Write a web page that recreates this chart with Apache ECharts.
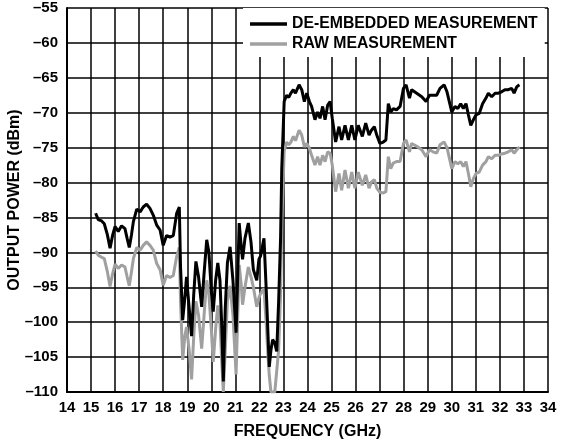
<!DOCTYPE html>
<html>
<head>
<meta charset="utf-8">
<script src="https://cdn.jsdelivr.net/npm/echarts@6/dist/echarts.min.js"></script>
<style>
  html, body { margin: 0; padding: 0; background: #fff; }
  #chart { width: 561px; height: 446px; }
</style>
</head>
<body>
<div id="chart"></div>
<script>
const freqGHz = [
  15.19, 15.30, 15.44, 15.55, 15.68, 15.79, 15.90, 16.00, 16.13, 16.27,
  16.41, 16.50, 16.59, 16.68, 16.76, 16.90, 17.04, 17.17, 17.31, 17.45,
  17.59, 17.73, 17.87, 18.00, 18.14, 18.28, 18.42, 18.56, 18.67,
  18.72, 18.81, 18.90, 18.97, 19.08, 19.18, 19.27, 19.36, 19.47, 19.60,
  19.70, 19.81, 19.90, 20.00, 20.08, 20.18, 20.27, 20.36, 20.44, 20.50,
  20.58, 20.67, 20.78, 20.90, 21.03, 21.10, 21.16, 21.24, 21.30, 21.40,
  21.54, 21.65, 21.75, 21.89, 21.98, 22.05, 22.19, 22.28, 22.36, 22.41,
  22.48, 22.55, 22.64, 22.72, 22.80, 22.88, 22.93,
  23.03, 23.13, 23.22, 23.31, 23.41, 23.50, 23.65, 23.76, 23.87, 23.97,
  24.08, 24.17, 24.31, 24.42, 24.52, 24.63, 24.73, 24.84, 24.94, 25.03,
  25.17, 25.31, 25.42, 25.56, 25.70, 25.84, 25.97, 26.11, 26.28, 26.42,
  26.56, 26.66, 26.78, 26.88, 27.01, 27.15, 27.26, 27.36, 27.46, 27.57,
  27.70, 27.85, 27.99, 28.10, 28.24, 28.33, 28.54, 28.75, 28.93, 29.07,
  29.22, 29.37, 29.51, 29.68, 29.80, 30.00, 30.13, 30.25, 30.37, 30.48,
  30.59, 30.69, 30.79, 30.90, 31.01, 31.14, 31.28, 31.42, 31.52, 31.66,
  31.80, 31.94, 32.07, 32.21, 32.35, 32.49, 32.59, 32.70, 32.81
]

const deEmbedded = [
  -84.4, -85.3, -85.5, -85.9, -87.5, -89.4, -87.5, -86.3, -87.0, -86.2,
  -86.6, -88.0, -89.3, -87.5, -85.6, -83.8, -84.2, -83.5, -83.1, -83.7,
  -84.7, -86.1, -86.8, -89.0, -87.6, -87.8, -87.6, -84.4, -83.5,
  -92.0, -99.7, -96.5, -93.5, -98.0, -102.0, -96.0, -91.3, -93.5, -97.8,
  -93.0, -88.2, -90.0, -95.5, -98.5, -94.0, -91.5, -94.0, -101.0, -108.5,
  -98.0, -91.5, -89.2, -94.0, -101.5, -93.0, -85.8, -89.0, -91.0, -88.0,
  -85.8, -88.5, -92.5, -94.0, -91.0, -90.5, -88.0, -95.0, -102.0, -106.4,
  -104.0, -102.5, -103.0, -104.2, -97.0, -88.0, -78.0,
  -68.4, -67.5, -67.8, -67.2, -66.7, -67.2, -66.0, -66.7, -68.4, -67.2,
  -68.4, -69.1, -71.0, -69.9, -70.8, -69.1, -71.0, -68.9, -68.4, -70.8,
  -74.2, -72.0, -73.9, -71.8, -73.9, -71.8, -73.9, -71.8, -73.4, -71.5,
  -73.2, -72.5, -72.0, -73.2, -74.4, -74.2, -73.9, -68.7, -69.9, -69.4,
  -69.6, -69.1, -66.5, -66.0, -67.9, -66.7, -67.2, -67.7, -68.4, -67.5,
  -67.5, -67.5, -66.5, -66.0, -67.0, -69.9, -69.1, -69.4, -68.7, -69.4,
  -68.7, -70.3, -71.8, -71.0, -70.3, -70.1, -68.7, -67.9, -67.2, -67.7,
  -67.2, -67.2, -67.0, -66.7, -66.7, -66.5, -67.2, -66.3, -66.0
]

const rawMeasured = [
  -89.8, -90.4, -90.7, -90.9, -92.8, -94.9, -93.0, -91.7, -92.3, -91.8,
  -92.1, -93.5, -94.8, -92.8, -90.9, -89.3, -89.7, -89.0, -88.5, -89.0,
  -89.7, -91.6, -92.5, -94.7, -93.3, -93.6, -93.3, -90.6, -89.3,
  -97.0, -105.4, -102.0, -100.7, -104.0, -108.2, -102.0, -97.0, -99.0, -103.8,
  -99.0, -94.0, -96.0, -101.0, -105.7, -101.0, -97.6, -100.0, -106.0, -110.0,
  -104.0, -97.0, -94.8, -99.0, -107.5, -99.0, -91.8, -94.5, -97.5, -95.0,
  -92.1, -93.5, -95.0, -97.8, -96.5, -95.9, -95.2, -100.0, -105.0, -107.6,
  -110.0, -110.0, -110.0, -110.0, -104.0, -96.0, -86.0,
  -75.5, -74.2, -74.6, -74.2, -73.4, -74.0, -72.5, -73.2, -74.9, -74.4,
  -75.1, -76.1, -77.5, -76.3, -77.5, -76.1, -77.0, -75.6, -75.8, -77.5,
  -81.3, -78.7, -81.1, -78.2, -80.8, -78.5, -80.8, -78.5, -80.4, -78.9,
  -80.8, -79.9, -79.6, -80.8, -81.4, -81.5, -81.3, -76.3, -78.0, -77.2,
  -77.0, -77.0, -74.4, -73.9, -75.6, -74.4, -74.8, -75.3, -76.3, -75.3,
  -75.6, -75.8, -74.6, -74.2, -75.0, -78.0, -77.0, -77.3, -77.0, -77.7,
  -77.0, -78.7, -80.6, -79.4, -78.7, -78.5, -77.5, -77.0, -76.3, -76.6,
  -76.1, -76.1, -75.9, -75.8, -75.6, -75.3, -75.8, -75.3, -74.9
]

const seriesNames = ['DE-EMBEDDED MEASUREMENT', 'RAW MEASUREMENT']

const FONT = '"Liberation Sans", Arial, sans-serif'

function pairs(values) {
  return freqGHz.map((f, i) => [f, values[i]])
}

function buildOption() {
  return {
    animation: false,
    textStyle: { fontFamily: FONT },
    grid: { left: 67, right: 13, top: 8, bottom: 54, outerBoundsMode: 'none' },
    legend: {
      orient: 'vertical',
      left: 243,
      top: 8,
      padding: [8, 7, 5, 7],
      itemGap: 4,
      itemWidth: 37,
      itemHeight: 3.5,
      icon: 'rect',
      backgroundColor: '#fff',
      data: seriesNames,
      textStyle: { fontFamily: FONT, fontWeight: 'bold', fontSize: 15.8, color: '#000' }
    },
    xAxis: {
      type: 'value',
      min: 14,
      max: 34,
      interval: 1,
      name: 'FREQUENCY (GHz)',
      nameLocation: 'middle',
      nameGap: 32,
      nameMoveOverlap: false,
      nameTextStyle: { fontFamily: FONT, fontWeight: 'bold', fontSize: 16, color: '#000' },
      axisLine: { lineStyle: { color: '#000', width: 2 } },
      axisTick: { show: false },
      axisLabel: { fontFamily: FONT, fontWeight: 'bold', fontSize: 15, color: '#000', margin: 8 },
      splitLine: { show: true, lineStyle: { color: '#000', width: 1.5 } }
    },
    yAxis: {
      type: 'value',
      min: -110,
      max: -55,
      interval: 5,
      name: 'OUTPUT POWER (dBm)',
      nameLocation: 'middle',
      nameGap: 44,
      nameRotate: 90,
      nameMoveOverlap: false,
      nameTextStyle: { fontFamily: FONT, fontWeight: 'bold', fontSize: 16, color: '#000' },
      axisLine: { show: true, lineStyle: { color: '#000', width: 2 } },
      axisTick: { show: false },
      axisLabel: {
        fontFamily: FONT, fontWeight: 'bold', fontSize: 15, color: '#000', margin: 9,
        formatter: (v) => String(v).replace('-', '\u2013')
      },
      splitLine: { show: true, lineStyle: { color: '#000', width: 1.5 } }
    },
    series: [
      {
        name: seriesNames[1],
        type: 'line',
        data: pairs(rawMeasured),
        symbol: 'none',
        clip: true,
        lineStyle: { color: '#a0a0a0', width: 3 },
        itemStyle: { color: '#a0a0a0' },
        z: 3
      },
      {
        name: seriesNames[0],
        type: 'line',
        data: pairs(deEmbedded),
        symbol: 'none',
        clip: true,
        lineStyle: { color: '#000', width: 3 },
        itemStyle: { color: '#000' },
        z: 4
      }
    ]
  }
}

const chart = echarts.init(document.getElementById('chart'))
chart.setOption(buildOption())
</script>
</body>
</html>
